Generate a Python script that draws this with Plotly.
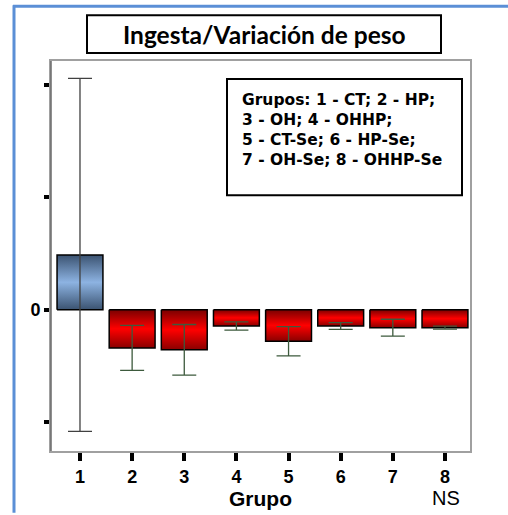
import plotly.graph_objects as go

# ---- data ----
groups = ["1", "2", "3", "4", "5", "6", "7", "8"]
means = [0.487, -0.34, -0.357, -0.145, -0.28, -0.145, -0.16, -0.16]
errors = [1.57, 0.20, 0.225, 0.037, 0.13, 0.03, 0.075, 0.013]
ytick_vals = [-1, 0, 1, 2]
ytick_text = ["", "0", "", ""]
title_text = "Ingesta/Variación de peso"
legend_lines = ["Grupos: 1 - CT; 2 - HP;", "3 - OH; 4 - OHHP;",
                "5 - CT-Se; 6 - HP-Se;", "7 - OH-Se; 8 - OHHP-Se"]

W, H = 508, 515
L, R, T, B = 51, 470, 61, 453

def pxx(p):
    return (p - L) / (R - L)

def pxy(p):
    return 1 - (p - T) / (B - T)

fig = go.Figure()

half = 0.44
blue_scale = [[0, "#3b5371"], [0.5, "#8db3e2"], [1, "#3b5371"]]
red_scale = [[0, "#8a0000"], [0.5, "#ff0000"], [1, "#7a0000"]]
for i, (g, m) in enumerate(zip(groups, means)):
    xc = i + 1
    fig.add_trace(go.Scatter(
        x=[xc - half, xc + half, xc + half, xc - half, xc - half],
        y=[0, 0, m, m, 0],
        mode="lines", fill="toself",
        fillgradient=dict(type="vertical", colorscale=blue_scale if m > 0 else red_scale),
        line=dict(color="black", width=1.5),
        hoverinfo="skip", showlegend=False))

for i, (m, e) in enumerate(zip(means, errors)):
    fig.add_trace(go.Scatter(
        x=[i + 1], y=[m], mode="markers",
        marker=dict(size=1, color="rgba(0,0,0,0)"),
        error_y=dict(type="data", array=[e], visible=True,
                     color="#404040" if i == 0 else "#3d5a3d",
                     thickness=1.3, width=12),
        showlegend=False))

fig.update_layout(
    width=W, height=H,
    margin=dict(l=L, r=W - R, t=T, b=H - B),
    paper_bgcolor="white", plot_bgcolor="white",
    font=dict(family="Liberation Sans", color="black"),
    xaxis=dict(range=[0.444, 8.48], tickvals=list(range(1, len(groups) + 1)),
               ticktext=groups, ticks="outside", ticklen=8, tickwidth=4,
               tickcolor="black", showgrid=False, zeroline=False,
               showline=True, linecolor="#a0a0a0", linewidth=2, mirror=True,
               tickfont=dict(family="Liberation Sans", size=18, color="black", weight="bold"),
               title=dict(text="<b>Grupo</b>", font=dict(family="Liberation Sans", size=21),
                          standoff=2)),
    yaxis=dict(range=[-1.257, 2.212], tickvals=ytick_vals, ticktext=ytick_text,
               ticks="outside", ticklen=5, tickwidth=4, tickcolor="black",
               showgrid=False, zeroline=False, showline=True,
               linecolor="#a0a0a0", linewidth=2, mirror=True,
               tickfont=dict(family="Liberation Sans", size=18, color="black", weight="bold")),
)

shapes = []
# left axis darker line
shapes.append(dict(type="line", xref="paper", yref="paper", x0=0, x1=0, y0=0, y1=1,
                   line=dict(color="#6a6a6a", width=1.5)))
# blue outer border
shapes.append(dict(type="line", xref="paper", yref="paper", x0=pxx(14), x1=pxx(14),
                   y0=pxy(5), y1=pxy(515), line=dict(color="#5b8fd6", width=3)))
shapes.append(dict(type="line", xref="paper", yref="paper", x0=pxx(13), x1=pxx(508),
                   y0=pxy(6), y1=pxy(6), line=dict(color="#5b8fd6", width=3)))
# title box
shapes.append(dict(type="rect", xref="paper", yref="paper", x0=pxx(87), x1=pxx(441),
                   y0=pxy(15), y1=pxy(53), line=dict(color="black", width=2),
                   fillcolor="white"))
# legend box
shapes.append(dict(type="rect", xref="paper", yref="paper", x0=pxx(227), x1=pxx(462),
                   y0=pxy(79), y1=pxy(196), line=dict(color="black", width=2),
                   fillcolor="white"))
fig.update_layout(shapes=shapes)

annotations = [
    dict(text="<b>" + title_text + "</b>", xref="paper", yref="paper",
         x=pxx(264), y=pxy(34), showarrow=False, xanchor="center", yanchor="middle",
         font=dict(family="Lato", size=24.5, color="black")),
    dict(text="NS", xref="paper", yref="paper", x=pxx(446), y=pxy(500),
         showarrow=False, xanchor="center", yanchor="middle",
         font=dict(family="Liberation Sans", size=20, color="black")),
    dict(text="<b>" + "<br>".join(legend_lines) + "</b>", xref="paper", yref="paper",
         x=pxx(240), y=pxy(130), showarrow=False, xanchor="left", yanchor="middle",
         align="left", font=dict(family="DejaVu Sans", size=15.5, color="black")),
]
fig.update_layout(annotations=annotations)

fig.write_html("out.html")
